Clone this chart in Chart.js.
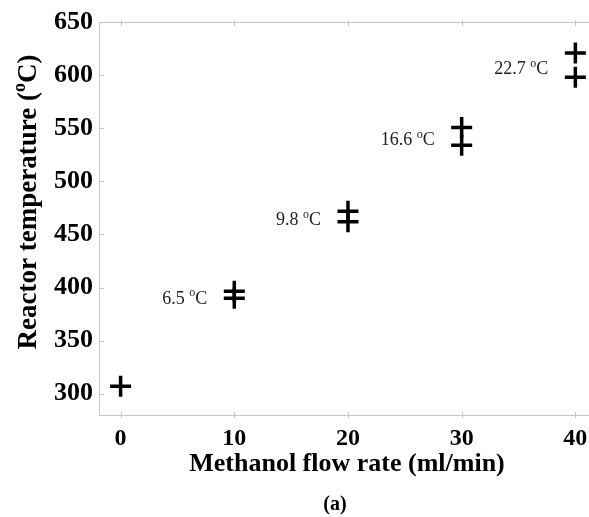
<!DOCTYPE html>
<html>
<head>
<meta charset="utf-8">
<script src="https://cdn.jsdelivr.net/npm/chart.js@4.4.1/dist/chart.umd.min.js"></script>
<style>
  html, body { margin: 0; padding: 0; background: #fff; }
  #wrap { width: 589px; height: 517px; }
</style>
</head>
<body>
<div id="wrap"><canvas id="canvas" width="589" height="517"></canvas></div>
<script>
// methanol flow rate (ml/min)
const flowRates = [0, 10, 20, 30, 40];
// lower reading of reactor temperature (°C)
const lowerTemps = [307, 390, 462, 534, 598];
// upper reading, none at zero flow
const upperTemps = [null, 396.5, 471.8, 550.6, 620.7];
// temperature spread labels
const spreadLabels = ["", "6.5", "9.8", "16.6", "22.7"];

// axis tick values
const xTicks = [0, 10, 20, 30, 40];
const yTicks = [300, 350, 400, 450, 500, 550, 600, 650];

const serif = '"Liberation Serif", "Times New Roman", serif';
const axisGrey = "#c4c4c4";

const points = (ys) => flowRates
  .map((x, i) => ({ x: x, y: ys[i] }))
  .filter(p => p.y !== null);

// draws "text" + superscript o + "C)" style strings
const drawSup = (ctx, parts, x, y, size, weight, align) => {
  const big = weight + " " + size + "px " + serif;
  const small = weight + " " + Math.round(size * 0.65) + "px " + serif;
  ctx.font = big;
  const w0 = ctx.measureText(parts[0]).width;
  ctx.font = small;
  const w1 = ctx.measureText("o").width;
  ctx.font = big;
  const w2 = ctx.measureText(parts[1]).width;
  const total = w0 + w1 + w2;
  let start = x;
  if (align === "center") start = x - total / 2;
  if (align === "right") start = x - total;
  ctx.textAlign = "left";
  ctx.textBaseline = "alphabetic";
  ctx.font = big;
  ctx.fillText(parts[0], start, y);
  ctx.font = small;
  ctx.fillText("o", start + w0, y - size * 0.42);
  ctx.font = big;
  ctx.fillText(parts[1], start + w0 + w1, y);
};

const decorations = {
  id: "decorations",
  afterDraw(chart) {
    const ctx = chart.ctx;
    const area = chart.chartArea;
    const xs = chart.scales.x;
    const ys = chart.scales.y;
    ctx.save();

    // top edge and small tick marks
    ctx.strokeStyle = axisGrey;
    ctx.lineWidth = 1;
    ctx.beginPath();
    ctx.moveTo(area.left, area.top + 0.5);
    ctx.lineTo(area.right, area.top + 0.5);
    xs.ticks.forEach(t => {
      const px = Math.round(xs.getPixelForValue(t.value)) + 0.5;
      ctx.moveTo(px, area.bottom - 3);
      ctx.lineTo(px, area.bottom + 3);
      ctx.moveTo(px, area.top - 2);
      ctx.lineTo(px, area.top + 4);
    });
    ys.ticks.forEach(t => {
      const py = Math.round(ys.getPixelForValue(t.value)) + 0.5;
      ctx.moveTo(area.left, py);
      ctx.lineTo(area.left + 5, py);
    });
    ctx.stroke();

    // spread labels
    ctx.fillStyle = "#222";
    flowRates.forEach((x, i) => {
      if (!spreadLabels[i]) return;
      const px = xs.getPixelForValue(x) - 27;
      const mid = (lowerTemps[i] + upperTemps[i]) / 2;
      const py = ys.getPixelForValue(mid) + 3 + 6;
      drawSup(ctx, [spreadLabels[i] + " ", "C"], px, py, 18, "normal", "right");
    });

    // axis titles
    ctx.fillStyle = "#000";
    ctx.font = "bold 26px " + serif;
    ctx.textAlign = "center";
    ctx.textBaseline = "alphabetic";
    ctx.fillText("Methanol flow rate (ml/min)", 347, 471);
    ctx.font = "bold 20px " + serif;
    ctx.fillText("(a)", 335, 510);

    ctx.save();
    ctx.translate(36, 202);
    ctx.rotate(-Math.PI / 2);
    drawSup(ctx, ["Reactor temperature (", "C)"], 0, 0, 27, "bold", "center");
    ctx.restore();

    ctx.restore();
  }
};

const crossStyle = {
  pointStyle: "cross",
  pointRadius: 10.5,
  pointHoverRadius: 10.5,
  borderWidth: 3.5,
  pointBorderWidth: 3.5,
  borderColor: "#000",
  backgroundColor: "#000",
  showLine: false,
  clip: false
};

new Chart(document.getElementById("canvas"), {
  type: "scatter",
  data: {
    datasets: [
      Object.assign({ label: "lower", data: points(lowerTemps) }, crossStyle),
      Object.assign({ label: "upper", data: points(upperTemps) }, crossStyle)
    ]
  },
  options: {
    responsive: false,
    animation: false,
    events: [],
    layout: { autoPadding: false, padding: { left: 0, top: 22, right: 0, bottom: 0 } },
    plugins: {
      legend: { display: false },
      tooltip: { enabled: false }
    },
    scales: {
      x: {
        type: "linear",
        min: -1.9,
        max: 41.2,
        afterFit: (s) => { s.height = 102; s.paddingRight = 0; },
        afterBuildTicks: (s) => { s.ticks = xTicks.map(v => ({ value: v })); },
        grid: { display: false, drawTicks: false },
        border: { display: true, color: axisGrey, width: 1 },
        ticks: {
          padding: 9,
          color: "#000",
          font: { family: serif, size: 24, weight: "bold" }
        }
      },
      y: {
        type: "linear",
        min: 280,
        max: 650,
        afterFit: (s) => { s.width = 99; },
        afterBuildTicks: (s) => { s.ticks = yTicks.map(v => ({ value: v })); },
        grid: { display: false, drawTicks: false },
        border: { display: true, color: axisGrey, width: 1 },
        ticks: {
          padding: 6,
          color: "#000",
          font: { family: serif, size: 26, weight: "bold" }
        }
      }
    }
  },
  plugins: [decorations]
});
</script>
</body>
</html>
